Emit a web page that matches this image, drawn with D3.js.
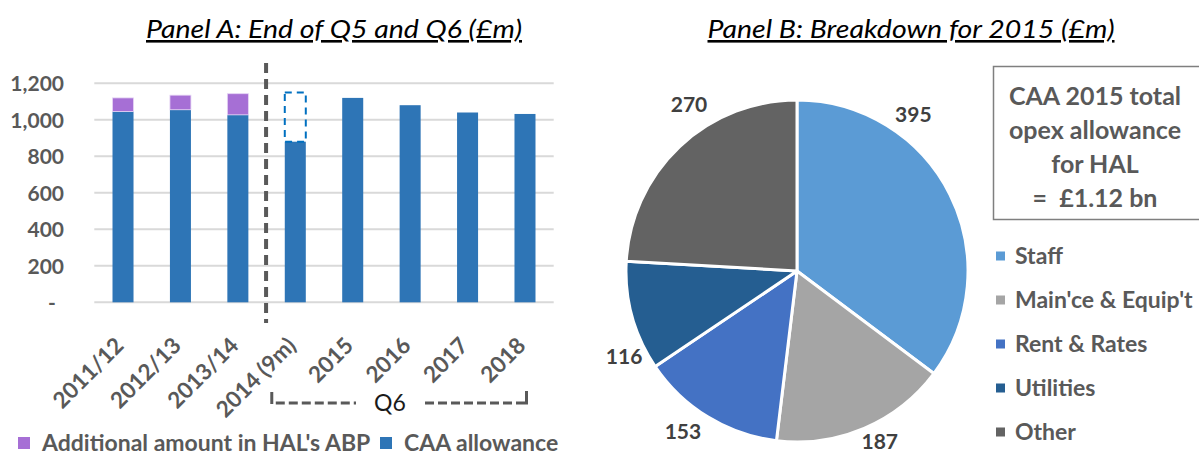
<!DOCTYPE html>
<html><head><meta charset="utf-8">
<script src="https://cdn.jsdelivr.net/npm/d3@7"></script>
<style>
html,body{margin:0;padding:0;background:#fff;}
svg{display:block;}
text{font-family:Lato,"Open Sans",sans-serif;}
</style></head>
<body><svg id="c" width="1199" height="455"></svg>
<script>
// ---- data ----
const categories = ["2011/12","2012/13","2013/14","2014 (9m)","2015","2016","2017","2018"];
const caaAllowance = [1045,1055,1027,880,1120,1080,1040,1032];
const additionalABP = [75,80,116,0,0,0,0,0];
const fullYearOutline = [0,0,0,270,0,0,0,0]; // dashed outline above 2014 (9m)
const yTicks = [0,200,400,600,800,1000,1200];
const pieCategories = ["Staff","Main'ce & Equip't","Rent & Rates","Utilities","Other"];
const pieValues = [395,187,153,116,270];
const boxLines = ["CAA 2015 total","opex allowance","for HAL","=  £1.12 bn"];

// ---- styles ----
const gray = "#595959";
const colCAA = "#2E75B6", colABP = "#A66FD5";
const pieColors = ["#5B9BD5","#A5A5A5","#4472C4","#255E91","#636363"];

const svg = d3.select("#c");
svg.append("rect").attr("width",1199).attr("height",455).attr("fill","#fff");

// ===== Panel A =====
const x = d3.scaleBand().domain(categories).range([94.3,553.7]).paddingInner(0.634).paddingOuter(0.317);
const y = d3.scaleLinear().domain([0,1200]).range([302.3,83.3]);

svg.append("text").attr("x",334).attr("y",38).attr("text-anchor","middle")
  .attr("font-size",26).attr("font-style","italic").attr("fill","#000")
  .attr("textLength",376).attr("lengthAdjust","spacingAndGlyphs")
  .attr("text-decoration","underline").text("Panel A: End of Q5 and Q6 (£m)");

const gA = svg.append("g");
gA.selectAll("line.grid").data(yTicks).join("line").attr("class","grid")
  .attr("x1",94.3).attr("x2",553.7).attr("y1",d=>y(d)).attr("y2",d=>y(d))
  .attr("stroke","#D9D9D9").attr("stroke-width",2);

const yAxis = d3.axisLeft(y).tickValues(yTicks).tickSize(0).tickPadding(0)
  .tickFormat(d=> d===0 ? "-" : d3.format(",")(d));
const ya = gA.append("g").attr("transform","translate(64,0)").call(yAxis);
ya.select(".domain").remove();
ya.selectAll("text").attr("font-size",21).attr("font-weight","bold").attr("fill",gray)
  .attr("font-family","Lato").attr("dy","0.35em");
ya.selectAll(".tick").filter(d=>d===0).select("text").attr("text-anchor","start").attr("x",-16);

const bw = x.bandwidth();
gA.selectAll("rect.caa").data(categories).join("rect").attr("class","caa")
  .attr("x",d=>x(d)).attr("width",bw)
  .attr("y",(d,i)=>y(caaAllowance[i])).attr("height",(d,i)=>y(0)-y(caaAllowance[i]))
  .attr("fill",colCAA);
gA.selectAll("rect.abp").data(categories.filter((d,i)=>additionalABP[i]>0)).join("rect").attr("class","abp")
  .attr("x",d=>x(d)).attr("width",bw)
  .attr("y",d=>{const i=categories.indexOf(d);return y(caaAllowance[i]+additionalABP[i]);})
  .attr("height",d=>{const i=categories.indexOf(d);return y(caaAllowance[i])-y(caaAllowance[i]+additionalABP[i]);})
  .attr("fill",colABP).attr("stroke","#E6D5F5").attr("stroke-width",0.8);
gA.selectAll("rect.outline").data(categories.filter((d,i)=>fullYearOutline[i]>0)).join("rect").attr("class","outline")
  .attr("x",d=>x(d)).attr("width",bw)
  .attr("y",d=>{const i=categories.indexOf(d);return y(caaAllowance[i]+fullYearOutline[i]);})
  .attr("height",d=>{const i=categories.indexOf(d);return y(caaAllowance[i])-y(caaAllowance[i]+fullYearOutline[i]);})
  .attr("fill","none").attr("stroke","#0070C0").attr("stroke-width",2).attr("stroke-dasharray","7,5");

// Q5/Q6 divider
const divX = x.range()[0] + x.step()*(categories.indexOf("2014 (9m)")) ;
gA.append("line").attr("x1",divX-0.5).attr("x2",divX-0.5).attr("y1",63).attr("y2",323)
  .attr("stroke",gray).attr("stroke-width",4).attr("stroke-dasharray","10,6");

// x labels
const xAxis = d3.axisBottom(x).tickSize(0).tickPadding(0);
const xa = gA.append("g").attr("transform","translate(0,302)").call(xAxis);
xa.select(".domain").remove();
xa.selectAll("text").attr("font-size",22.5).attr("font-weight","bold").attr("fill",gray)
  .attr("font-family","Lato").attr("text-anchor","end").attr("dy",null).attr("y",null)
  .attr("transform","translate(2,45) rotate(-45)");

// Q6 bracket
const bL = x("2014 (9m)") - 13, bR = x("2018") + bw - 9, bY = 403;
const br = gA.append("g").attr("stroke",gray).attr("stroke-width",3);
br.append("line").attr("x1",bL).attr("x2",bL).attr("y1",392).attr("y2",bY+1);
br.append("line").attr("x1",bR).attr("x2",bR).attr("y1",391).attr("y2",bY+1.5);
br.append("line").attr("x1",bL+4).attr("x2",356).attr("y1",bY).attr("y2",bY).attr("stroke-dasharray","9,4");
br.append("line").attr("x1",425).attr("x2",bR).attr("y1",bY).attr("y2",bY).attr("stroke-dasharray","9,4");
gA.append("text").attr("x",390).attr("y",bY).attr("dy","0.35em").attr("text-anchor","middle")
  .attr("font-size",23).attr("fill","#1a1a1a").text("Q6");

// legend A
const legA = [{name:"Additional amount in HAL's ABP",c:colABP,x:18},{name:"CAA allowance",c:colCAA,x:380}];
const lg = gA.selectAll("g.lega").data(legA).join("g").attr("class","lega")
  .attr("transform",d=>`translate(${d.x},443)`);
lg.append("rect").attr("x",0).attr("y",-6).attr("width",12).attr("height",12).attr("fill",d=>d.c);
lg.append("text").attr("x",24).attr("dy","0.35em").attr("font-size",23).attr("font-weight","bold")
  .attr("fill",gray).text(d=>d.name);

// ===== Panel B =====
svg.append("text").attr("x",911).attr("y",38).attr("text-anchor","middle")
  .attr("font-size",26).attr("font-style","italic").attr("fill","#000")
  .attr("textLength",407).attr("lengthAdjust","spacingAndGlyphs")
  .attr("text-decoration","underline").text("Panel B: Breakdown for 2015 (£m)");

const cx = 797, cy = 271, R = 171;
const pie = d3.pie().sort(null).value(d=>d)(pieValues);
const arc = d3.arc().innerRadius(0).outerRadius(R);
const gB = svg.append("g").attr("transform",`translate(${cx},${cy})`);
gB.selectAll("path").data(pie).join("path").attr("d",arc)
  .attr("fill",(d,i)=>pieColors[i]).attr("stroke","#fff").attr("stroke-width",3).attr("stroke-linejoin","round");

// label placement (Excel best-fit nudges: degrees, radius)
const labelNudge = [-26.8,-2.7,3.9,-11,10.3];
const labelRad = [195,190,197,193,198];
gB.selectAll("text.lbl").data(pie).join("text").attr("class","lbl")
  .attr("x",(d,i)=>{const a=(d.startAngle+d.endAngle)/2 + labelNudge[i]*Math.PI/180; return labelRad[i]*Math.sin(a);})
  .attr("y",(d,i)=>{const a=(d.startAngle+d.endAngle)/2 + labelNudge[i]*Math.PI/180; return -labelRad[i]*Math.cos(a);})
  .attr("dy","0.35em").attr("text-anchor","middle").attr("font-size",21).attr("font-weight","bold")
  .attr("fill","#404040").text(d=>d3.format(",")(d.value));

// box
svg.append("rect").attr("x",993.5).attr("y",66.5).attr("width",220).attr("height",153)
  .attr("fill","#fff").attr("stroke","#7F7F7F").attr("stroke-width",1.5);
svg.selectAll("text.box").data(boxLines).join("text").attr("class","box")
  .attr("x",1095).attr("y",(d,i)=>105+i*34).attr("text-anchor","middle")
  .attr("font-size",25).attr("font-weight","bold").attr("fill",gray)
  .attr("xml:space","preserve").style("white-space","pre").text(d=>d);

// legend B
const lgB = svg.selectAll("g.legb").data(pieCategories).join("g").attr("class","legb")
  .attr("transform",(d,i)=>`translate(996,${256+i*44})`);
lgB.append("rect").attr("x",0).attr("y",-4.5).attr("width",9).attr("height",9).attr("fill",(d,i)=>pieColors[i]);
lgB.append("text").attr("x",19).attr("dy","0.35em").attr("font-size",23).attr("font-weight","bold")
  .attr("fill",gray).text(d=>d);
</script></body></html>
